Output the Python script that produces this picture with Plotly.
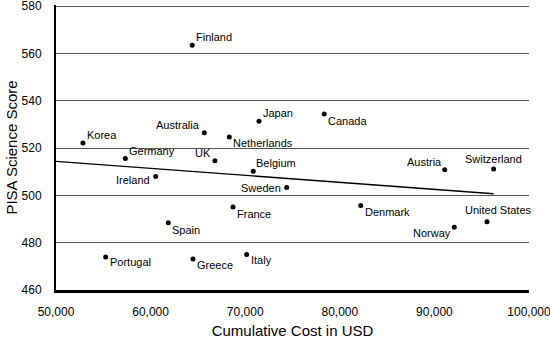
import plotly.graph_objects as go

countries = ["Finland", "Korea", "Germany", "Australia", "Netherlands", "Japan", "UK",
             "Belgium", "Ireland", "Sweden", "France", "Spain", "Portugal", "Greece",
             "Italy", "Canada", "Austria", "Switzerland", "Denmark", "United States", "Norway"]
cost = [64400, 52850, 57330, 65680, 68320, 71460, 66800,
        70850, 60540, 74390, 68710, 61870, 55250, 64480,
        70160, 78360, 91090, 96260, 82210, 95560, 92100]
score = [563.5, 522.2, 515.6, 526.5, 524.7, 531.4, 514.7,
         510.2, 508.0, 503.3, 495.1, 488.4, 474.0, 473.1,
         475.0, 534.4, 510.8, 511.2, 495.7, 488.9, 486.5]

# linear trend line as drawn in the chart
trend_x = [50000, 96260]
trend_y = [514.4, 500.7]

x_ticks = [50000, 60000, 70000, 80000, 90000, 100000]
y_ticks = [460, 480, 500, 520, 540, 560, 580]

# label placement: (xanchor, yanchor, xshift, yshift)
place = {
    "Finland": ("left", "bottom", 2, 0),
    "Korea": ("left", "bottom", 2, 0),
    "Germany": ("left", "bottom", 2, 0),
    "Australia": ("right", "bottom", -2, 0),
    "Netherlands": ("left", "top", 2, 2),
    "Japan": ("left", "bottom", 2, 0),
    "UK": ("right", "bottom", -2, 0),
    "Belgium": ("left", "bottom", 1, 0),
    "Ireland": ("right", "top", -4, 4),
    "Sweden": ("right", "middle", -4, 0),
    "France": ("left", "top", 2, 1),
    "Spain": ("left", "top", 2, 1),
    "Portugal": ("left", "top", 2, 3),
    "Greece": ("left", "top", 2, 2),
    "Italy": ("left", "top", 2, 3),
    "Canada": ("left", "top", 2, 1),
    "Austria": ("right", "bottom", -1, 0),
    "Switzerland": ("center", "bottom", 0, 2),
    "Denmark": ("left", "top", 2, 2),
    "United States": ("center", "bottom", 11, 4),
    "Norway": ("right", "top", -1, 2),
}

narrow = "Liberation Sans Narrow, Arial Narrow, Liberation Sans, sans-serif"
label_font = dict(family=narrow, size=11, color="black")
title_font = dict(family="Liberation Sans, Arial, sans-serif", size=15, color="black")

fig = go.Figure()
fig.add_trace(go.Scatter(x=cost, y=score, mode="markers",
                         marker=dict(color="black", size=5), showlegend=False))
fig.add_trace(go.Scatter(x=trend_x, y=trend_y, mode="lines",
                         line=dict(color="black", width=1.3), showlegend=False))

for c, x, y in zip(countries, cost, score):
    xa, ya, xs, ys = place[c]
    fig.add_annotation(x=x, y=y, text=c, showarrow=False, xanchor=xa, yanchor=ya,
                       xshift=xs, yshift=ys, font=label_font)

fig.update_layout(
    width=550, height=339,
    margin=dict(l=56, r=21, t=5, b=49),
    plot_bgcolor="white", paper_bgcolor="white",
    font=dict(family=narrow, size=12, color="black"),
)
fig.update_xaxes(range=[50000, 100000], tickvals=x_ticks,
                 ticktext=[f"{v:,}" for v in x_ticks], showgrid=False,
                 showline=True, linecolor="black", linewidth=2.5,
                 ticks="outside", ticklen=9, tickcolor="rgba(0,0,0,0)",
                 ticklabeloverflow="allow", automargin=False,
                 tickfont=dict(size=12), zeroline=False,
                 title=dict(text="Cumulative Cost in USD", standoff=9, font=title_font))
fig.update_yaxes(range=[460, 580.5], tickvals=y_ticks, showgrid=True,
                 gridcolor="#555555", gridwidth=1,
                 showline=True, linecolor="black", linewidth=2,
                 ticks="outside", ticklen=10, tickcolor="rgba(0,0,0,0)",
                 ticklabeloverflow="allow", automargin=False,
                 tickfont=dict(size=12), zeroline=False,
                 title=dict(text="PISA Science Score", standoff=0, font=title_font))

fig.write_html("out.html")
